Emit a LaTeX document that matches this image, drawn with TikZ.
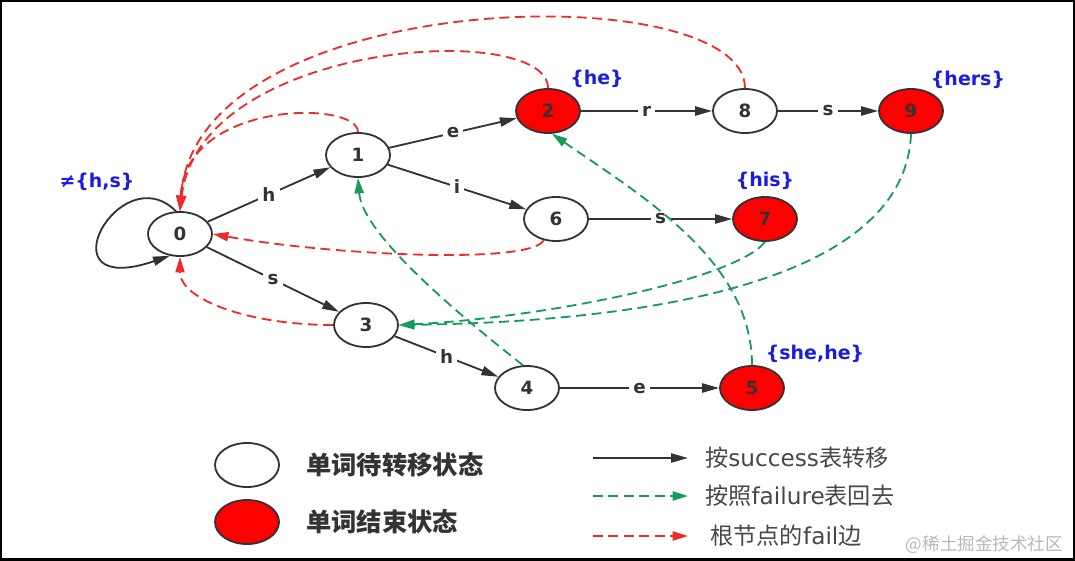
\documentclass[tikz,border=0pt]{standalone}
\usepackage{fontspec}
\setmainfont{DejaVu Sans}
\newfontfamily\cjk{Noto Sans CJK SC}
\usetikzlibrary{arrows.meta,positioning,shapes.geometric}
\definecolor{inkgray}{HTML}{333333}
\definecolor{endred}{HTML}{FF0000}
\definecolor{failred}{HTML}{EE2B2B}
\definecolor{backgreen}{HTML}{169B5B}
\definecolor{setblue}{HTML}{1C1CE0}

\begin{document}
\begin{tikzpicture}[x=0.025cm,y=-0.025cm,
  st/.style={ellipse,draw=inkgray,line width=1.3pt,fill=white,minimum width=1.6cm,
             minimum height=1.1cm,inner sep=0pt,text=inkgray,
             font=\bfseries\fontsize{13}{13}\selectfont},
  fin/.style={st,fill=endred},
  succ/.style={draw=inkgray,line width=1.3pt,-{Triangle[length=12pt,width=6.5pt]}},
  back/.style={draw=backgreen,line width=1.3pt,dash pattern=on 7pt off 4pt,
               -{Triangle[length=11pt,width=6.5pt]}},
  rootfail/.style={back,draw=failred},
  sym/.style={fill=white,inner sep=3pt,text=inkgray,font=\bfseries\fontsize{13}{13}\selectfont},
  wordset/.style={text=setblue,inner sep=0pt,font=\bfseries\fontsize{13.5}{13.5}\selectfont},
  legbold/.style={text=inkgray,inner sep=0pt,font=\cjk\bfseries\fontsize{18}{18}\selectfont},
  legtext/.style={text=inkgray!90,inner sep=0pt,font=\fontsize{16.5}{16.5}\selectfont}]
\useasboundingbox (0,0) rectangle (1075,560);
\draw[line width=3pt] (0,0) rectangle (1075,560);

% states
\node[st] (n0) at (180,234) {0};
\node[st] (n1) at (358,155) {1};
\node[fin] (n2) at (548,111) {2};
\node[st] (n8) at (745,111) {8};
\node[fin] (n9) at (911,111) {9};
\node[st] (n6) at (556,219) {6};
\node[fin] (n7) at (765,219) {7};
\node[st] (n3) at (366,325) {3};
\node[st] (n4) at (527,388) {4};
\node[fin] (n5) at (752,388) {5};

% output sets
\node[wordset] (w0) at (97,182) {≠\{h,s\}};
\node[wordset] (w2) at (597,79) {\{he\}};
\node[wordset] (w9) at (968,80) {\{hers\}};
\node[wordset] (w7) at (765,181) {\{his\}};
\node[wordset] (w5) at (815,354) {\{she,he\}};

% success edges
\draw[succ] (n0) -- node[sym]{h} (n1);
\draw[succ] (n1) -- node[sym]{e} (n2);
\draw[succ] (n1) -- node[sym]{i} (n6);
\draw[succ] (n2) -- node[sym]{r} (n8);
\draw[succ] (n8) -- node[sym]{s} (n9);
\draw[succ] (n6) -- node[sym]{s} (n7);
\draw[succ] (n0) -- node[sym]{s} (n3);
\draw[succ] (n3) -- node[sym]{h} (n4);
\draw[succ] (n4) -- node[sym]{e} (n5);
\draw[succ] (n0.100) .. controls (120,155) and (40,300) .. (n0.-115);

% fail edges to the root
\draw[rootfail] (n1.north) .. controls (358,100) and (185,100) .. (n0.north);
\draw[rootfail] (n2.north) .. controls (548,20) and (200,40) .. (n0.north);
\draw[rootfail] (n8.north) .. controls (745,-25) and (195,-15) .. (n0.north);
\draw[rootfail] (n6.-120) .. controls (530,265) and (330,255) .. (n0.east);
\draw[rootfail] (n3.west) .. controls (250,325) and (180,300) .. (n0.south);

% failure edges
\draw[back] (n4.100) .. controls (440,300) and (362,230) .. (n1.south);
\draw[back] (n5.north) .. controls (752,260) and (640,195) .. (n2.-80);
\draw[back] (n7.south) .. controls (735,280) and (540,318) .. (n3.east);
\draw[back] (n9.south) .. controls (905,290) and (620,322) .. (n3.east);

% legend
\node[st] (lg1) at (247,465) {};
\node[fin] (lg2) at (247,522) {};
\node[legbold,right=0.65cm of lg1] (lt1) {单词待转移状态};
\node[legbold,right=0.65cm of lg2] (lt2) {单词结束状态};
\coordinate (la1) at (593,458); \coordinate (lb1) at (688,458);
\coordinate (la2) at (593,496); \coordinate (lb2) at (688,496);
\coordinate (la3) at (593,536); \coordinate (lb3) at (688,536);
\draw[succ] (la1) -- (lb1);
\draw[back] (la2) -- (lb2);
\draw[rootfail] (la3) -- (lb3);
\node[legtext,right=0.42cm of lb1] (lt3) {{\cjk 按}success{\cjk 表转移}};
\node[legtext,right=0.42cm of lb2] (lt4) {{\cjk 按照}failure{\cjk 表回去}};
\node[legtext,right=0.55cm of lb3] (lt5) {{\cjk 根节点的}fail{\cjk 边}};
\node[anchor=east,text=black!28,font=\cjk\fontsize{12.5}{12.5}\selectfont] (wm) at (1068,545) {@稀土掘金技术社区};
\end{tikzpicture}
\end{document}
